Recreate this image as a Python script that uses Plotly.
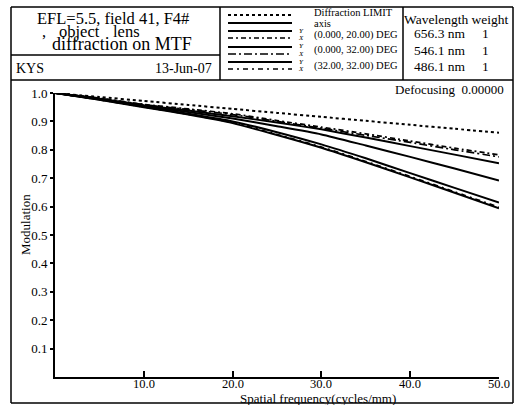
import plotly.graph_objects as go

# ---- data ----
freq = [0, 5, 10, 15, 20, 25, 30, 35, 40, 45, 50]
diff_limit = [1.0, 0.986, 0.972, 0.958, 0.944, 0.930, 0.916, 0.902, 0.888, 0.874, 0.860]
axis_mtf = [1.0, 0.980, 0.957, 0.938, 0.918, 0.896, 0.872, 0.843, 0.813, 0.783, 0.753]
f20_y = [1.0, 0.979, 0.955, 0.933, 0.910, 0.883, 0.854, 0.815, 0.775, 0.734, 0.692]
f20_x = [1.0, 0.982, 0.960, 0.944, 0.927, 0.903, 0.880, 0.856, 0.831, 0.806, 0.782]
f32_y = [1.0, 0.977, 0.952, 0.927, 0.900, 0.862, 0.819, 0.770, 0.718, 0.666, 0.614]
f32_x = [1.0, 0.981, 0.959, 0.942, 0.924, 0.900, 0.876, 0.851, 0.826, 0.800, 0.775]
f3232_y = [1.0, 0.976, 0.950, 0.924, 0.894, 0.852, 0.807, 0.756, 0.703, 0.649, 0.594]
f3232_x = [1.0, 0.976, 0.951, 0.925, 0.896, 0.854, 0.810, 0.759, 0.706, 0.652, 0.598]

x_ticks = [10, 20, 30, 40, 50]
x_tick_labels = ["10.0", "20.0", "30.0", "40.0", "50.0"]
y_ticks = [0.1, 0.2, 0.3, 0.4, 0.5, 0.6, 0.7, 0.8, 0.9, 1.0]
y_tick_labels = ["0.1", "0.2", "0.3", "0.4", "0.5", "0.6", "0.7", "0.8", "0.9", "1.0"]

wavelengths = ["656.3 nm", "546.1 nm", "486.1 nm"]
weights = ["1", "1", "1"]
field_labels = ["(0.000, 20.00) DEG", "(0.000, 32.00) DEG", "(32.00, 32.00) DEG"]

FONT = "Liberation Serif"
W, H = 523, 405
ML, MR, MT, MB = 55, 24, 93, 28
PW, PH = W - ML - MR, H - MT - MB

DOT = "3px,3px"
DD1 = "5px,3px,2px,3px"
DD2 = "8px,3px,2px,3px"
DD3 = "5px,4px,2px,4px"


def px(x):
    return (x - ML) / PW


def py(y):
    return (H - MB - y) / PH


fig = go.Figure()
series = [
    (diff_limit, 2, DOT),
    (axis_mtf, 2, "solid"),
    (f20_y, 2, "solid"),
    (f20_x, 1.7, DD1),
    (f32_y, 2, "solid"),
    (f32_x, 1.7, DD2),
    (f3232_y, 2, "solid"),
    (f3232_x, 1.7, DD3),
]
for vals, w, dash in series:
    fig.add_trace(go.Scatter(x=freq, y=vals, mode="lines",
                             line=dict(color="black", width=w, dash=dash,
                                       shape="spline", smoothing=0.6),
                             showlegend=False, hoverinfo="skip"))

shapes = []


def line(x0, y0, x1, y1, width=1.5, dash="solid"):
    shapes.append(dict(type="line", xref="paper", yref="paper",
                       x0=px(x0), y0=py(y0), x1=px(x1), y1=py(y1),
                       line=dict(color="black", width=width, dash=dash)))


# frames
line(11, 7, 513, 7)
line(11, 7, 11, 403)
line(513, 7, 513, 403)
line(11, 80, 513, 80)
line(11, 403, 513, 403)
line(220, 7, 220, 80)
line(403, 7, 403, 80)
line(11, 55, 220, 55)

# legend samples
line(228, 15, 292, 15, 2, DOT)
line(228, 23, 292, 23, 2)
line(228, 31, 292, 31, 2)
line(228, 38, 292, 38, 1.7, DD1)
line(228, 47, 292, 47, 2)
line(228, 54, 292, 54, 1.7, DD2)
line(228, 62, 292, 62, 2)
line(228, 69, 292, 69, 1.7, DD3)

ann = []


def text(x, y, s, size=13, xanchor="left", textangle=0, italic=False):
    ann.append(dict(xref="paper", yref="paper", x=px(x), y=py(y), text=s,
                    showarrow=False, xanchor=xanchor, yanchor="middle",
                    textangle=textangle,
                    font=dict(family=FONT, size=size, color="black",
                              style="italic" if italic else "normal")))


text(113, 19, "EFL=5.5, field 41, F4#", 16.5, "center")
text(40, 32, ",", 16.5)
text(57, 32, "object", 16.5)
text(111, 32, "lens", 16.5)
text(50, 44, "diffraction on MTF", 18)
text(14, 68, "KYS", 14)
text(214, 68, "13-Jun-07", 14, "right")

text(312, 12, "Diffraction LIMIT", 10.5)
text(312, 23, "axis", 10.5)
for i, lab in enumerate(field_labels):
    yc = 35 + i * 15.5
    text(312, yc, lab, 10.5)
    text(301, yc - 4, "Y", 7, "center", italic=True)
    text(301, yc + 3, "X", 7, "center", italic=True)

text(456, 19.5, "Wavelength weight", 13.5, "center")
for i, (wl, wt) in enumerate(zip(wavelengths, weights)):
    yc = 34 + i * 16.3
    text(412, yc, wl, 13.5)
    text(485, yc, wt, 13.5, "center")

text(506, 90, "Defocusing  0.00000", 13, "right")
text(318, 399, "Spatial frequency(cycles/mm)", 13, "center")
text(25, 225, "Modulation", 13, "center", textangle=-90)

# x tick labels placed tight under the axis, as in the reference
for xv, lab in zip(x_ticks, x_tick_labels):
    ann.append(dict(xref="x", yref="paper", x=xv, y=py(384), text=lab,
                    showarrow=False, xanchor="center", yanchor="middle",
                    font=dict(family=FONT, size=12.5, color="black")))

fig.update_layout(
    width=W, height=H,
    margin=dict(l=ML, r=MR, t=MT, b=MB, pad=0),
    paper_bgcolor="white", plot_bgcolor="white",
    font=dict(family=FONT, size=13, color="black"),
    shapes=shapes, annotations=ann,
    xaxis=dict(range=[0, 50], showgrid=False, zeroline=False,
               showline=True, linecolor="black", linewidth=2,
               tickvals=x_ticks, showticklabels=False,
               ticks="inside", ticklen=6, tickwidth=1.5, tickcolor="black",
               fixedrange=True),
    yaxis=dict(range=[0, 1.0], showgrid=False, zeroline=False,
               showline=True, linecolor="black", linewidth=2,
               tickvals=y_ticks, ticktext=y_tick_labels,
               ticks="outside", ticklen=3, tickwidth=1.5, tickcolor="black",
               tickfont=dict(family=FONT, size=13), fixedrange=True),
)

fig.write_html("out.html", config={"displayModeBar": False},
               post_script="document.body.style.margin='0';"
                           "document.body.style.overflow='hidden';")
